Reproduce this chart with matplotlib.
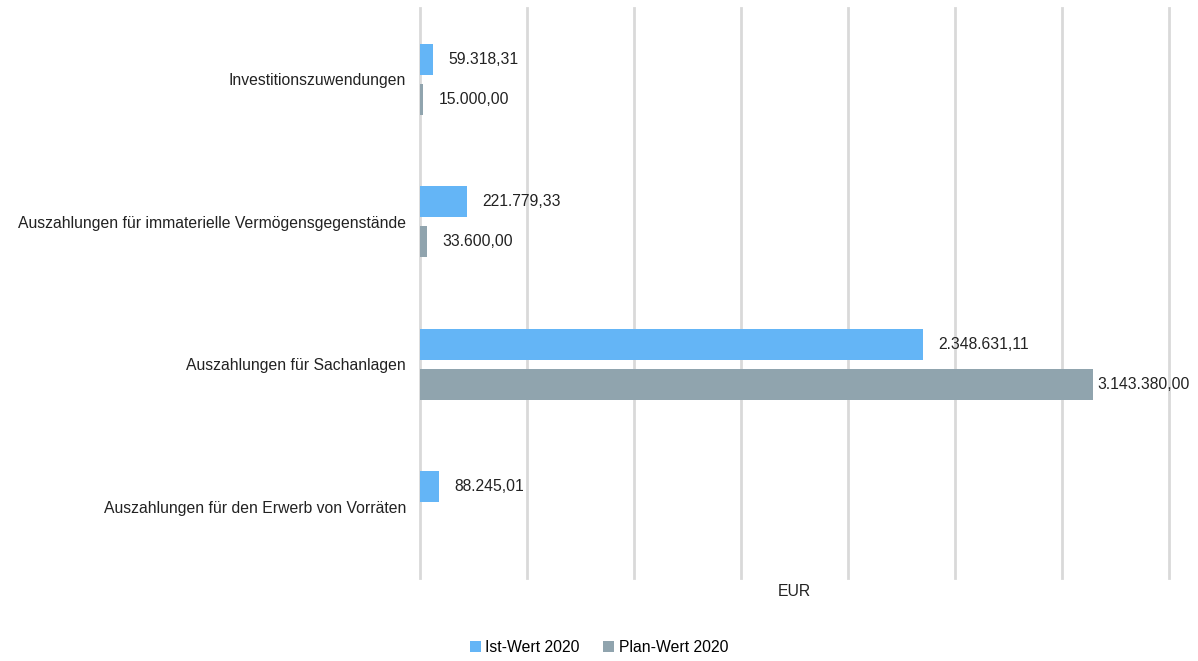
import numpy as np
import matplotlib.pyplot as plt

categories = ['Investitionszuwendungen',
              'Auszahlungen für immaterielle Vermögensgegenstände',
              'Auszahlungen für Sachanlagen',
              'Auszahlungen für den Erwerb von Vorräten']
ist = [59318.31, 221779.33, 2348631.11, 88245.01]
plan = [15000.00, 33600.00, 3143380.00, np.nan]
series_names = ['Ist-Wert 2020', 'Plan-Wert 2020']


def de_format(v):
    s = f'{v:,.2f}'
    return s.replace(',', 'X').replace('.', ',').replace('X', '.')


plt.rcParams['font.family'] = ['Liberation Sans', 'DejaVu Sans']
fs = 11.3
fig = plt.figure(figsize=(11.98, 6.61), dpi=100)
ax = fig.add_axes([420 / 1198, 83 / 661, 749 / 1198, 570 / 661])

y = np.arange(len(categories))
h = 0.22
off = 0.14
b1 = ax.barh(y - off, ist, height=h, color='#64b5f6', label=series_names[0])
b2 = ax.barh(y + off, plan, height=h, color='#90a4ae', label=series_names[1])

for bars, vals in ((b1, ist), (b2, plan)):
    for bar, v in zip(bars, vals):
        if np.isnan(v):
            continue
        pad = 3 if v > 3_000_000 else 11
        ax.annotate(de_format(v), (v, bar.get_y() + bar.get_height() / 2),
                    xytext=(pad, 0), textcoords='offset points',
                    va='center', ha='left', fontsize=fs, color='#222222')

ax.set_xlim(0, 3_500_000)
ax.set_ylim(len(categories) - 0.5, -0.5)
ax.set_xticks(np.arange(0, 3_500_001, 500_000))
ax.set_xticklabels([])
ax.tick_params(axis='x', length=0)
ax.tick_params(axis='y', length=0, pad=10, labelsize=fs, labelcolor='#222222')
ax.set_yticks(y)
ax.set_yticklabels(categories)
ax.grid(axis='x', color='#d9d9d9', linewidth=2)
for line in ax.get_xgridlines():
    line.set_clip_on(False)
ax.set_axisbelow(True)
for s in ax.spines.values():
    s.set_visible(False)
ax.set_xlabel('EUR', fontsize=fs, color='#222222', labelpad=1)

fig.legend(loc='lower center', bbox_to_anchor=(0.5, -0.012), ncol=2, frameon=False,
           fontsize=fs, handlelength=0.7, handleheight=0.7, handletextpad=0.3,
           columnspacing=1.5)

fig.savefig('out.png', dpi=100)
